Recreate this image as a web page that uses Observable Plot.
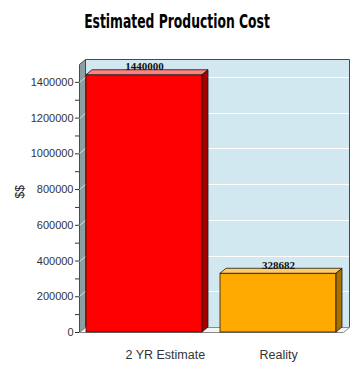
<!DOCTYPE html>
<html><head><meta charset="utf-8">
<script src="https://cdn.jsdelivr.net/npm/d3@7"></script>
<script src="https://cdn.jsdelivr.net/npm/@observablehq/plot@0.6"></script>
<style>
html,body{margin:0;padding:0;background:#fff;}
#wrap{position:relative;width:360px;height:368px;overflow:hidden;}
#title{position:absolute;left:0;top:12px;width:354px;text-align:center;font-family:"DejaVu Sans",sans-serif;font-weight:bold;font-size:19px;line-height:19px;transform:scaleX(0.65);transform-origin:177px 50%;white-space:nowrap;color:#000;}
#chart{position:absolute;left:0;top:40px;}
</style></head><body>
<div id="wrap"><div id="title"></div><div id="chart"></div></div>
<script>
const titleText = "Estimated Production Cost";
const yLabel = "$$";
const categories = ["2 YR Estimate", "Reality"];
const values = [1440000, 328682];
const frontColors = ["#ff0000", "#ffaa00"];
const topColors = ["#ff8080", "#ffcc66"];
const sideColors = ["#a50000", "#a87000"];
const yTicks = [0, 200000, 400000, 600000, 800000, 1000000, 1200000, 1400000];
const yMinorTicks = [100000, 300000, 500000, 700000, 900000, 1100000, 1300000];

document.getElementById("title").textContent = titleText;

const data = categories.map((c, i) => ({category: c, value: values[i], front: frontColors[i], idx: i}));

const D = 6, H = 5;
const NS = "http://www.w3.org/2000/svg";
function poly(g, pts, fill, stroke, sw) {
  const p = document.createElementNS(NS, "path");
  p.setAttribute("d", "M" + pts.map(q => q[0] + "," + q[1]).join("L") + "Z");
  p.setAttribute("fill", fill);
  p.setAttribute("stroke", stroke || "none");
  if (sw) p.setAttribute("stroke-width", sw);
  p.setAttribute("stroke-linejoin", "round");
  g.appendChild(p);
}
function seg(g, pts, stroke, sw) {
  const p = document.createElementNS(NS, "path");
  p.setAttribute("d", "M" + pts.map(q => q[0] + "," + q[1]).join("L"));
  p.setAttribute("fill", "none");
  p.setAttribute("stroke", stroke);
  p.setAttribute("stroke-width", sw || 1);
  g.appendChild(p);
}

const walls = Plot.frame({
  stroke: "none",
  render: (I, scales, vals, dims) => {
    const g = document.createElementNS(NS, "g");
    const L = dims.marginLeft + 0.5, R = dims.width - dims.marginRight + 0.5;
    const T = dims.marginTop + 0.5, B = dims.height - dims.marginBottom + 0.5;
    poly(g, [[L + D, T - H], [R + D, T - H], [R + D, B - H], [L + D, B - H]], "#d2e8f0");
    for (const t of yTicks) {
      if (t <= 0) continue;
      const y = Math.round(scales.y(t)) + 0.5;
      seg(g, [[L + D, y - H], [R + D, y - H]], "#ffffff", 1);
    }
    seg(g, [[L + D, B - H], [L + D, T - H], [R + D, T - H], [R + D, B - H]], "#4a4a4a", 1);
    poly(g, [[L, B], [L, T], [L + D, T - H], [L + D, B - H]], "#8d9ea1", "#4a4a4a", 1);
    for (const t of yTicks) {
      if (t <= 0) continue;
      const y = Math.round(scales.y(t)) + 0.5;
      seg(g, [[L, y], [L + D, y - H]], "#e6eef0", 0.8);
    }
    poly(g, [[L, B], [L + D, B - H], [R + D, B - H], [R, B]], "#f4f6f6", "#8a8a8a", 1);
    return g;
  }
});

const bars = Plot.barY(data, {
  x: "category", y: "value", fill: "front", stroke: "#1a1a1a", strokeWidth: 0.8,
  render: (I, scales, vals, dims, ctx, next) => {
    const g = next(I, scales, vals, dims, ctx);
    const rects = Array.from(g.querySelectorAll("rect"));
    rects.forEach((r, k) => {
      const i = I[k];
      const x = +r.getAttribute("x"), y = +r.getAttribute("y");
      const w = +r.getAttribute("width"), h = +r.getAttribute("height");
      poly(g, [[x, y], [x + D, y - H], [x + w + D, y - H], [x + w, y]], topColors[i], "#1a1a1a", 0.8);
      poly(g, [[x + w, y], [x + w + D, y - H], [x + w + D, y + h - H], [x + w, y + h]], sideColors[i], "#1a1a1a", 0.8);
    });
    return g;
  }
});

const plot = Plot.plot({
  width: 360, height: 328,
  marginTop: 24, marginBottom: 36, marginLeft: 79, marginRight: 17,
  style: {fontFamily: '"Liberation Sans", Arial, sans-serif', fontSize: "11px", background: "transparent", overflow: "visible"},
  x: {domain: categories, paddingInner: 0.134, paddingOuter: 0.052},
  y: {domain: [0, 1500000]},
  marks: [
    walls,
    bars,
    Plot.text(data, {x: "category", y: "value", text: d => String(d.value), lineAnchor: "bottom", dy: -5,
      fontFamily: '"Liberation Serif", serif', fontWeight: "bold", fontSize: 11, fill: "#111"}),
    Plot.axisY({ticks: yTicks, tickFormat: d => String(d), tickSize: 4, tickPadding: 2, label: null, color: "#333", fontSize: 11}),
    Plot.axisY({ticks: yMinorTicks, tickFormat: () => "", tickSize: 4, label: null, color: "#333"}),
    Plot.axisX({tickSize: 0, tickPadding: 18, textAnchor: "start", dx: -19, fontSize: 12.5, label: null, color: "#333"}),
    Plot.text([yLabel], {frameAnchor: "left", rotate: -90, dx: -59, fontSize: 12, fill: "#222"})
  ]
});
document.getElementById("chart").appendChild(plot);
</script>
</body></html>
